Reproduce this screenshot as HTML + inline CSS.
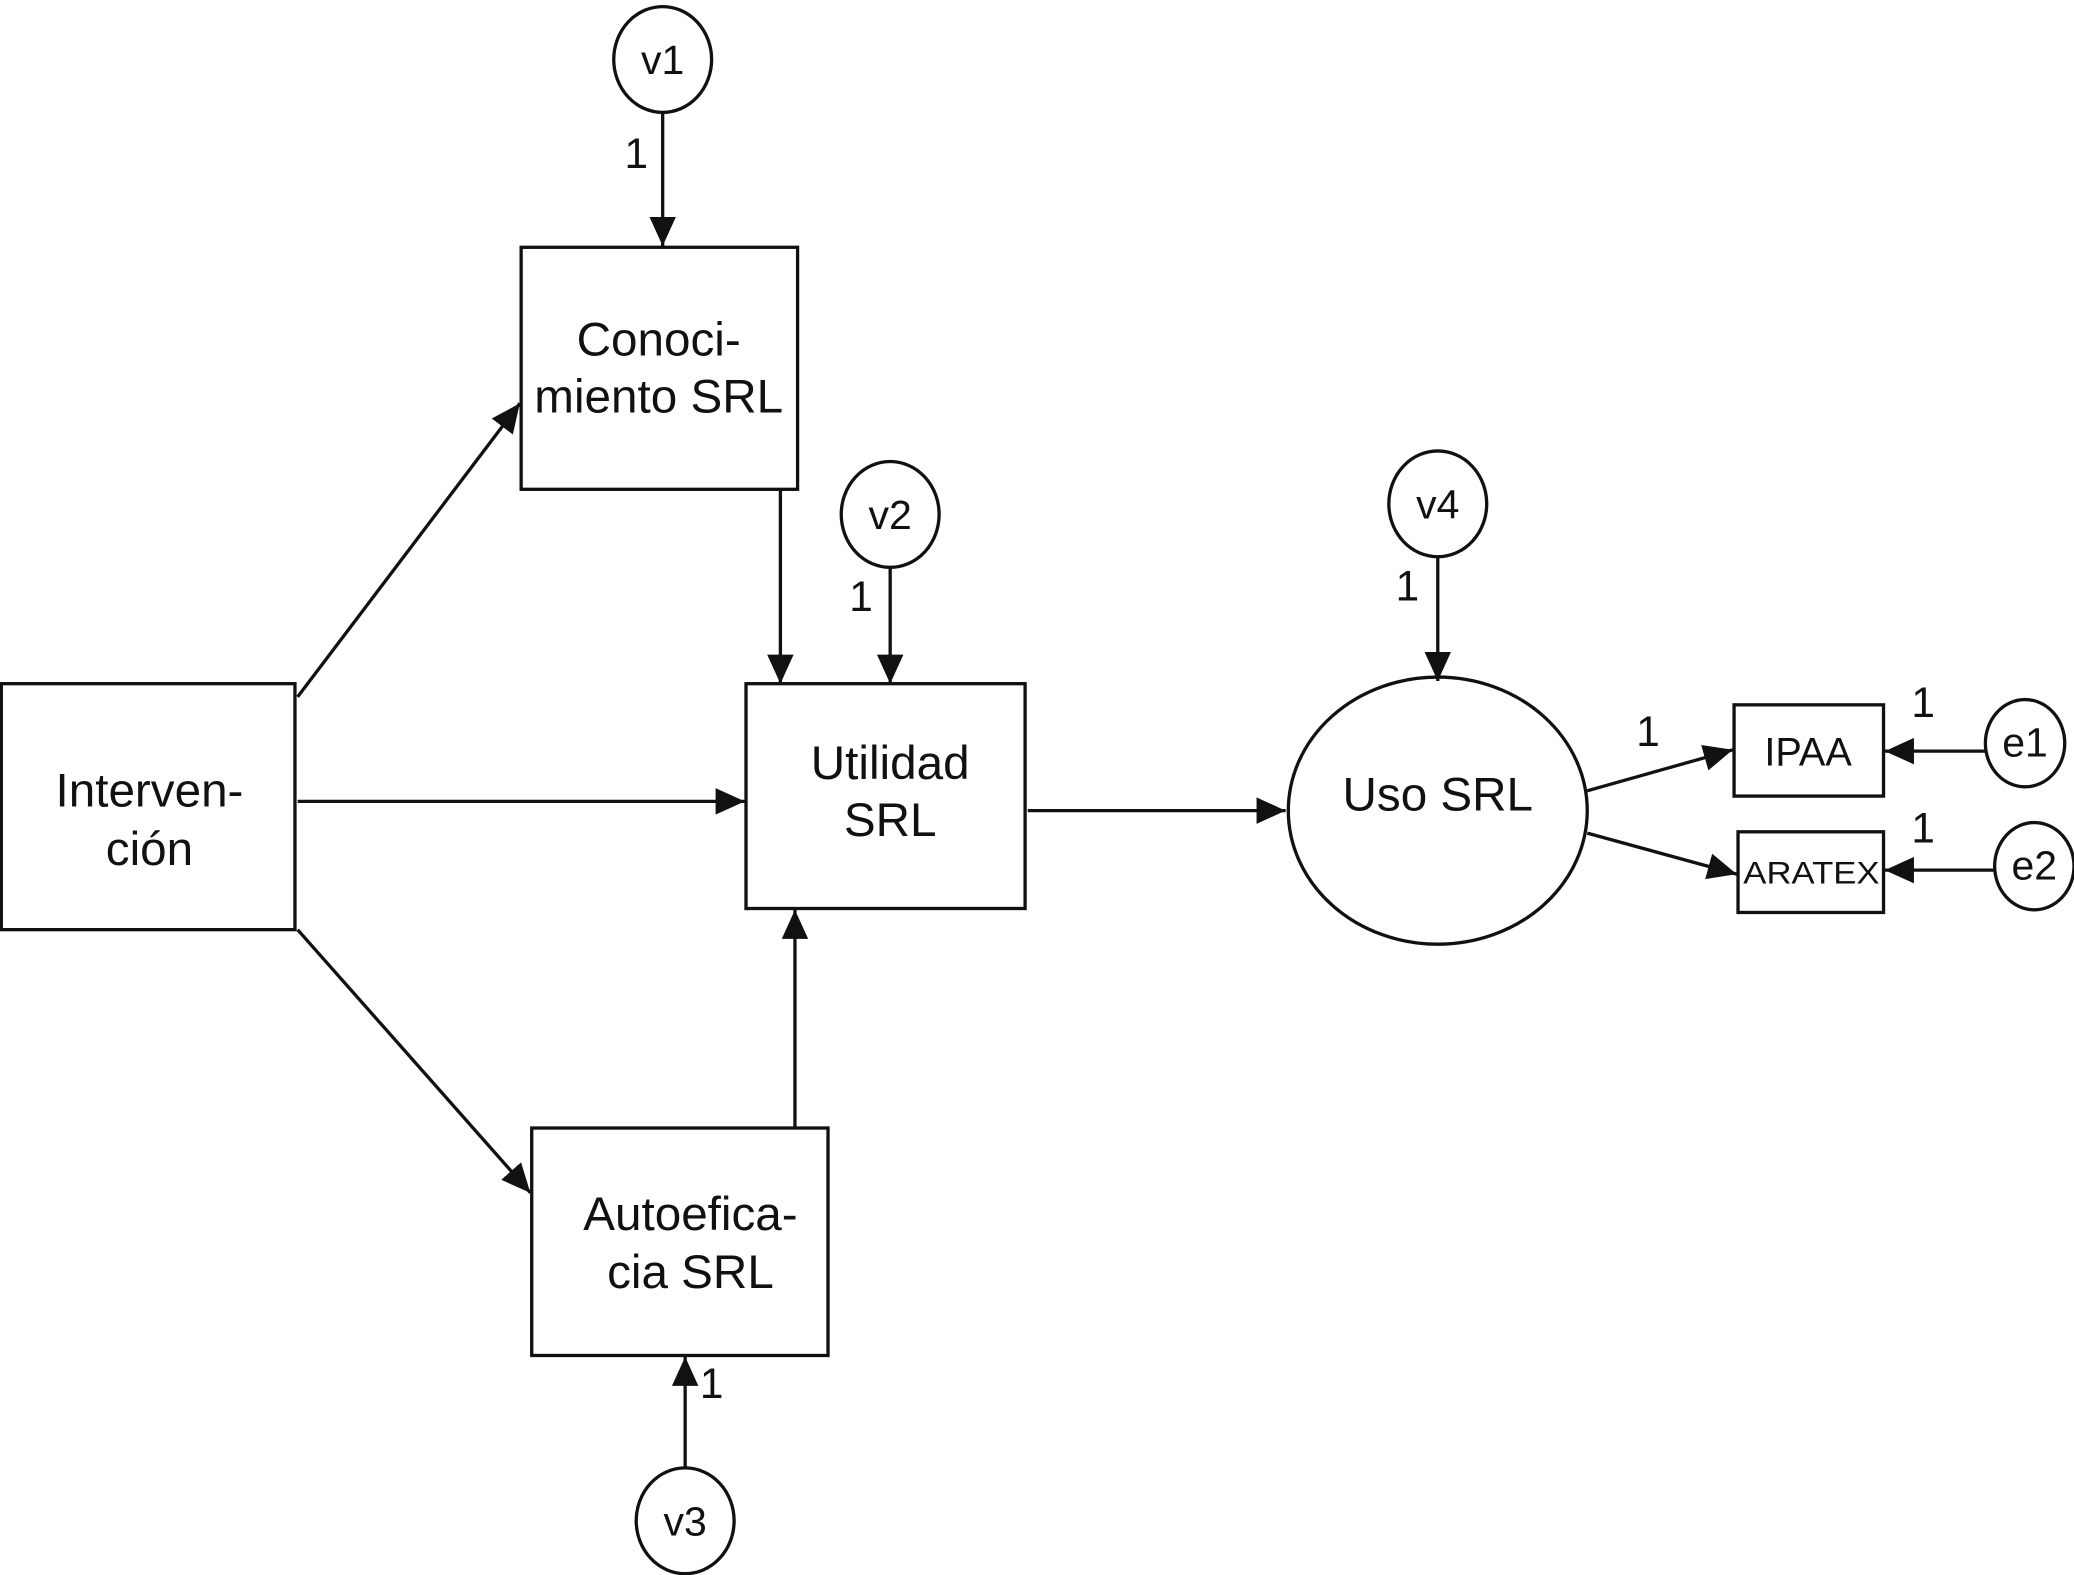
<!DOCTYPE html>
<html><head><meta charset="utf-8"><style>
html,body{margin:0;padding:0;background:#fff;}
svg{display:block;}
text{font-family:"Liberation Sans",Arial,sans-serif;fill:#111;}
</style></head><body>
<svg width="2074" height="1575" viewBox="0 0 1568 1191" preserveAspectRatio="none" xmlns="http://www.w3.org/2000/svg">
<defs>
<marker id="ah" viewBox="0 0 22 20" refX="22" refY="10" markerWidth="22" markerHeight="20" orient="auto" markerUnits="userSpaceOnUse">
<path d="M0,0 L22,10 L0,20 z" fill="#111"/>
</marker>
</defs>
<g stroke="#111" stroke-width="2.5" fill="none">
<rect x="394" y="187" width="209" height="183"/>
<rect x="564" y="517" width="211" height="170"/>
<rect x="1" y="517" width="222" height="186"/>
<rect x="402" y="853" width="224" height="172"/>
<rect x="1311" y="533" width="113" height="69"/>
<rect x="1314" y="629" width="110" height="61"/>
<ellipse cx="501" cy="45" rx="37" ry="40"/>
<ellipse cx="673" cy="389" rx="37" ry="40"/>
<ellipse cx="1087" cy="381" rx="37" ry="40"/>
<ellipse cx="518" cy="1150" rx="37" ry="40"/>
<ellipse cx="1087" cy="613" rx="113" ry="101"/>
<ellipse cx="1531" cy="562" rx="30" ry="33"/>
<ellipse cx="1538" cy="655" rx="30" ry="33"/>
</g>
<g stroke="#111" stroke-width="2.5" fill="none" marker-end="url(#ah)">
<line x1="501" y1="85" x2="501" y2="186"/>
<line x1="673" y1="429" x2="673" y2="517"/>
<line x1="1087" y1="421" x2="1087" y2="515"/>
<line x1="590" y1="370" x2="590" y2="517"/>
<line x1="225" y1="527" x2="393" y2="305"/>
<line x1="225" y1="606" x2="563" y2="606"/>
<line x1="225" y1="703" x2="401" y2="902"/>
<line x1="601" y1="853" x2="601" y2="688"/>
<line x1="518" y1="1110" x2="518" y2="1026"/>
<line x1="777" y1="613" x2="972" y2="613"/>
<line x1="1200" y1="598" x2="1310" y2="567"/>
<line x1="1200" y1="630" x2="1313" y2="661"/>
<line x1="1501" y1="568" x2="1425" y2="568"/>
<line x1="1508" y1="658" x2="1425" y2="658"/>
</g>
<g font-size="36" text-anchor="middle">
<text x="498" y="269">Conoci-</text>
<text x="498" y="312">miento SRL</text>
<text x="673" y="589">Utilidad</text>
<text x="673" y="632">SRL</text>
<text x="113" y="610">Interven-</text>
<text x="113" y="654">ción</text>
<text x="522" y="930">Autoefica-</text>
<text x="522" y="974">cia SRL</text>
<text x="1087" y="613">Uso SRL</text>
</g>
<g font-size="31" text-anchor="middle">
<text x="501" y="56">v1</text>
<text x="673" y="400">v2</text>
<text x="1087" y="392">v4</text>
<text x="518" y="1161">v3</text>
<text x="1367" y="579" font-size="30">IPAA</text>
<text x="1531" y="572">e1</text>
<text x="1538" y="665">e2</text>
</g>
<text x="1318" y="668" font-size="24" textLength="103" lengthAdjust="spacingAndGlyphs">ARATEX</text>
<g font-size="32" text-anchor="middle">
<text x="481" y="127">1</text>
<text x="651" y="462">1</text>
<text x="1064" y="454">1</text>
<text x="538" y="1057">1</text>
<text x="1246" y="564">1</text>
<text x="1454" y="542">1</text>
<text x="1454" y="637">1</text>
</g>
</svg>
</body></html>
